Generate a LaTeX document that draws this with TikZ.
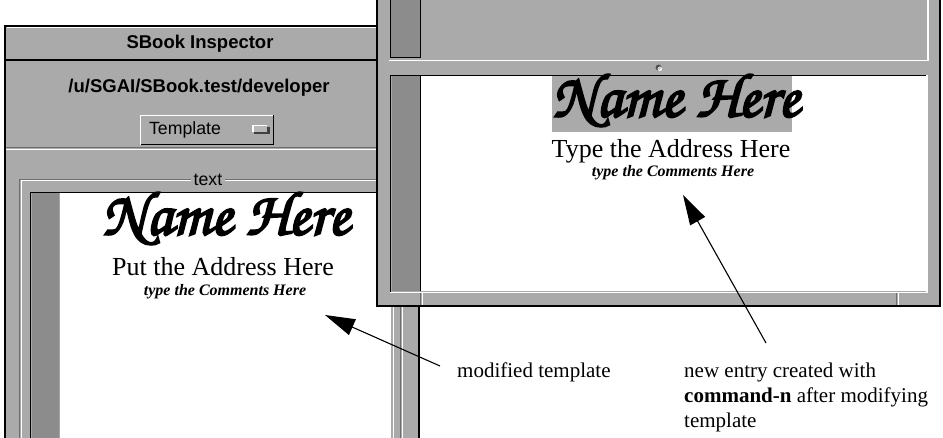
\documentclass[tikz,border=0pt]{standalone}
\usepackage[T1,TU]{fontenc}
\usepackage{fontspec}
\usepackage{graphicx}
\usetikzlibrary{arrows.meta}

\newfontfamily\guisans{Liberation Sans}
\newfontfamily\docserif{Liberation Serif}

\definecolor{gui}{HTML}{AAAAAA}
\definecolor{stip}{HTML}{8C8C8C}
\definecolor{etch}{HTML}{6E6E6E}

% heavy script heading: Zapf Chancery, set with fill-and-stroke rendering
\newcommand\chancery{\fontencoding{T1}\fontfamily{pzc}\fontseries{mb}\fontshape{it}\selectfont}
\newcommand\fatname{\resizebox{247pt}{!}{\color{black}%
  \special{pdf:literal 2 Tr 0.32 w}{\chancery Name Here}\special{pdf:literal 0 Tr 1 w}}}

\tikzset{
  winframe/.style={draw=black, line width=1.5pt, fill=gui},
  hi/.style={draw=white, line width=1pt},
  lo/.style={draw=black, line width=1pt},
  dim/.style={draw=etch, line width=1pt},
  stipple/.style={fill=stip},
  titletext/.style={font=\guisans\bfseries\fontsize{18.5}{20}\selectfont, inner sep=0},
  guitext/.style={font=\guisans\fontsize{17.7}{20}\selectfont, inner sep=0},
  nametext/.style={inner sep=0},
  addrtext/.style={font=\docserif\fontsize{26}{28}\selectfont, inner sep=0},
  commtext/.style={font=\docserif\bfseries\itshape\fontsize{16}{18}\selectfont, inner sep=0},
  note/.style={font=\docserif\fontsize{21}{25.5}\selectfont, inner sep=0, align=left},
  callout/.style={-{Triangle[length=30pt,width=17pt]}, line width=1.1pt},
}

\begin{document}
\begin{tikzpicture}[x=1pt,y=-1pt]
\useasboundingbox (0,0) rectangle (943,438);
\clip (0,0) rectangle (943,438);

% ---------- inspector window ----------
\path[winframe] (5,26) rectangle (419,460);
\draw[hi] (7,28) -- (376,28);
\draw[black, line width=1.5pt] (5,60) -- (419,60);
\node[titletext, anchor=base] (title) at (200,49) {SBook Inspector};
\node[titletext, anchor=base] (path) at (199,93) {/u/SGAI/SBook.test/developer};

% popup button
\fill[gui] (140,115) rectangle (274,145);
\draw[white, line width=1.5pt] (140.5,145) -- (140.5,115.5) -- (274,115.5);
\draw[black, line width=1.5pt] (140.5,144.5) -- (273.5,144.5) -- (273.5,115);
\node[guitext, anchor=base] (tmpl) at (185,135) {Template};
\fill[black!75] (254,127) rectangle (270,134);
\fill[white] (252,125) rectangle (267,132);
\fill[gui!85] (253.5,126.5) rectangle (267,132);

% separator
\draw[dim] (6,147.5) -- (418,147.5);
\draw[hi] (6,149.5) -- (418,149.5);

% "text" group box
\draw[dim] (19.5,460) -- (19.5,179.5) -- (400.5,179.5) -- (400.5,460);
\draw[hi] (21,460) -- (21,181) -- (402,181) -- (402,460);
\node[guitext, fill=gui, inner xsep=3pt, inner ysep=2pt] (grp) at (208,180) {text};

% scrolling text view
\draw[black, line width=1.5pt] (30.5,460) -- (30.5,192.5) -- (390,192.5);
\fill[stipple] (31.5,193.5) rectangle (59,460);
\draw[gray!70, line width=0.8pt] (59.6,193.5) -- (59.6,460);
\fill[white] (60,193.5) rectangle (389.5,460);
\draw[hi] (390.5,193) -- (390.5,460);
\draw[hi] (393,193) -- (393,460);

\node[nametext] (nameL) at (226,218) {\fatname};
\node[addrtext, anchor=base] (addrL) at (223,276) {Put the Address Here};
\node[commtext, anchor=base] (commL) at (225,296) {type the Comments Here};

% ---------- entry window ----------
\path[winframe] (377,-5) rectangle (940,306);

% upper pane
\fill[stipple] (391,-5) rectangle (420,57.5);
\draw[lo] (390.5,-5) -- (390.5,58);
\draw[lo] (420.5,-5) -- (420.5,58);
\draw[lo] (390.5,57.5) -- (420.5,57.5);
\draw[white, line width=1.3pt] (389,60.5) -- (928,60.5) -- (928,-5);

% split handle
\fill[black!70] (658.6,67.6) circle (3);
\fill[white] (659.8,68.8) circle (2.2);
\fill[gui!70] (659.3,68.3) circle (1.7);

% lower pane
\draw[black, line width=1.5pt] (390.5,292) -- (390.5,75.5) -- (926,75.5);
\fill[stipple] (391.5,76.5) rectangle (420,291);
\draw[lo] (420.5,76) -- (420.5,291);
\fill[white] (421,76.5) rectangle (925.5,291);
\draw[white, line width=1.5pt] (390,292.5) -- (927,292.5) -- (927,75);

% bottom strip
\draw[dim] (420.5,293.5) -- (420.5,305);
\draw[hi] (422,293.5) -- (422,305);
\draw[dim] (896.5,293.5) -- (896.5,305);
\draw[hi] (898,293.5) -- (898,305);

\fill[gui] (552,76.5) rectangle (792,132);
\node[nametext] (nameR) at (676,100) {\fatname};
\node[addrtext, anchor=base] (addrR) at (671,158) {Type the Address Here};
\node[commtext, anchor=base] (commR) at (673,177) {type the Comments Here};

% ---------- callouts ----------
\node[note, anchor=base west] (modlabel) at (457,378) {modified template};
\node[note, anchor=base west] (newlabel) at (684,428)
  {new entry created with\\\textbf{command-n} after modifying\\template};

\coordinate (tailA) at (440,366);
\coordinate (tipA) at (325,315);
\coordinate (tailB) at (766,343);
\coordinate (tipB) at (683,195);
\draw[callout] (tailA) -- (tipA);
\draw[callout] (tailB) -- (tipB);
\end{tikzpicture}
\end{document}
